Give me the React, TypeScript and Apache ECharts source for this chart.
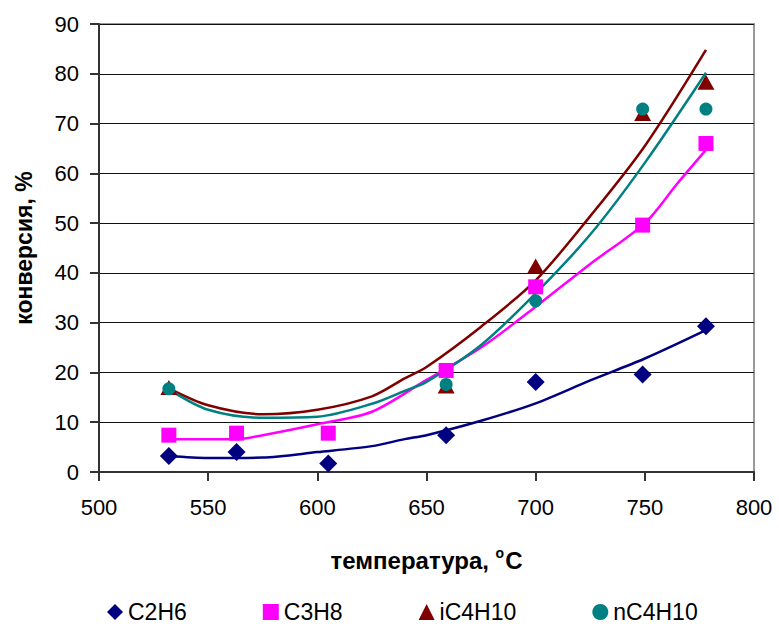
import React, { useEffect, useRef } from "react";
import * as echarts from "echarts";

const seriesNames = ["C2H6", "C3H8", "iC4H10", "nC4H10"];
const colors = ["#000080", "#FF00FF", "#800000", "#008080"];

// measured points [temperature, conversion]
const c2h6Points = [[532, 3.2], [563, 4.0], [605, 1.7], [659, 7.4], [700, 18.1], [749, 19.6], [778, 29.3]];
const c3h8Points = [[532, 7.4], [563, 7.8], [605, 7.8], [659, 20.4], [700, 37.2], [749, 49.6], [778, 66.0]];
const ic4h10Points = [[532, 17.0], [659, 17.3], [700, 41.4], [749, 72.0], [778, 78.3]];
const nc4h10Points = [[532, 16.7], [659, 17.6], [700, 34.4], [749, 72.9], [778, 72.9]];

// trend lines
const c2h6Trend = [[532, 3.2], [550, 2.8], [575, 2.9], [600, 4.0], [625, 5.2], [640, 6.6], [650, 7.4], [675, 10.3], [700, 13.8], [725, 18.4], [750, 22.8], [778, 28.5]];
const c3h8Trend = [[532, 6.6], [563, 6.6], [575, 7.4], [600, 9.6], [625, 12.1], [650, 18.5], [675, 25.0], [700, 33.2], [725, 41.8], [750, 50.0], [765, 58.0], [778, 64.7]];
const ic4h10Trend = [[532, 16.8], [550, 13.4], [575, 11.6], [600, 12.5], [625, 15.2], [640, 18.8], [650, 21.1], [675, 29.2], [700, 38.5], [725, 51.4], [750, 65.5], [778, 84.8]];
const nc4h10Trend = [[532, 16.6], [550, 12.5], [575, 10.9], [600, 11.1], [625, 13.7], [640, 16.3], [650, 18.1], [675, 25.5], [700, 35.9], [725, 47.7], [750, 62.1], [778, 80.2]];

const xTitle = "температура, ";
const yTitle = "конверсия, %";

const FONT = "'Liberation Sans', Arial, sans-serif";

export default function App() {
  const ref = useRef<HTMLDivElement>(null);
  useEffect(() => {
    if (!ref.current) return;
    const chart = echarts.init(ref.current, null, { renderer: "svg" });
    const points = [c2h6Points, c3h8Points, ic4h10Points, nc4h10Points];
    const trends = [c2h6Trend, c3h8Trend, ic4h10Trend, nc4h10Trend];
    const symbols = ["diamond", "rect", "triangle", "circle"];
    const sizes: any[] = [18, 15, [17, 15], 13];

    const lineSeries = trends.map((t, i) => ({
      type: "line",
      name: seriesNames[i] + " trend",
      data: t,
      showSymbol: false,
      smooth: 0.3,
      lineStyle: { color: colors[i], width: 2.5 },
      itemStyle: { color: colors[i] },
      z: 2,
    }));
    const scatterSeries = points.map((p, i) => ({
      type: "scatter",
      name: seriesNames[i],
      data: p,
      symbol: symbols[i],
      symbolSize: sizes[i],
      itemStyle: { color: colors[i], opacity: 1 },
      z: 3,
    }));

    chart.setOption({
      animation: false,
      textStyle: { fontFamily: FONT },
      grid: {
        left: 99,
        right: 25,
        top: 24,
        bottom: 154,
        show: true,
        borderColor: "#999",
        borderWidth: 2,
      },
      legend: {
        data: seriesNames.map((n, i) => ({ name: n, icon: ["diamond", "rect", "triangle", "circle"][i] })),
        left: 107,
        top: 599,
        padding: 0,
        itemGap: 76,
        itemWidth: 16,
        itemHeight: 16,
        textStyle: { fontSize: 23, color: "#000", fontFamily: FONT, lineHeight: 26 },
      },
      xAxis: {
        type: "value",
        min: 500,
        max: 800,
        interval: 50,
        name: "{a|" + xTitle + "}{s|o}{a|C}",
        nameLocation: "middle",
        nameGap: 74,
        nameTextStyle: {
          rich: {
            a: { fontSize: 24, fontWeight: "bold", color: "#000", fontFamily: FONT },
            s: { fontSize: 14, fontWeight: "bold", color: "#000", fontFamily: FONT, padding: [0, 1, 14, 0] },
          },
        },
        axisLine: { lineStyle: { color: "#333", width: 2 } },
        axisTick: { show: true, length: 9, lineStyle: { color: "#333", width: 2 } },
        axisLabel: { fontSize: 22, color: "#000", margin: 24, fontFamily: FONT },
        splitLine: { show: false },
      },
      yAxis: {
        type: "value",
        min: 0,
        max: 90,
        interval: 10,
        name: yTitle,
        nameLocation: "middle",
        nameGap: 64,
        nameTextStyle: { fontSize: 23, fontWeight: "bold", color: "#000", fontFamily: FONT },
        axisLine: { show: true, lineStyle: { color: "#333", width: 2 } },
        axisTick: { show: true, length: 9, lineStyle: { color: "#333", width: 2 } },
        axisLabel: { fontSize: 22, color: "#000", margin: 20, fontFamily: FONT },
        splitLine: { show: true, lineStyle: { color: "#111", width: 1.2 } },
      },
      series: [...lineSeries, ...scatterSeries],
    });
    return () => chart.dispose();
  }, []);
  return <div ref={ref} style={{ width: 779, height: 626, position: "absolute", left: 0, top: 0 }} />;
}
